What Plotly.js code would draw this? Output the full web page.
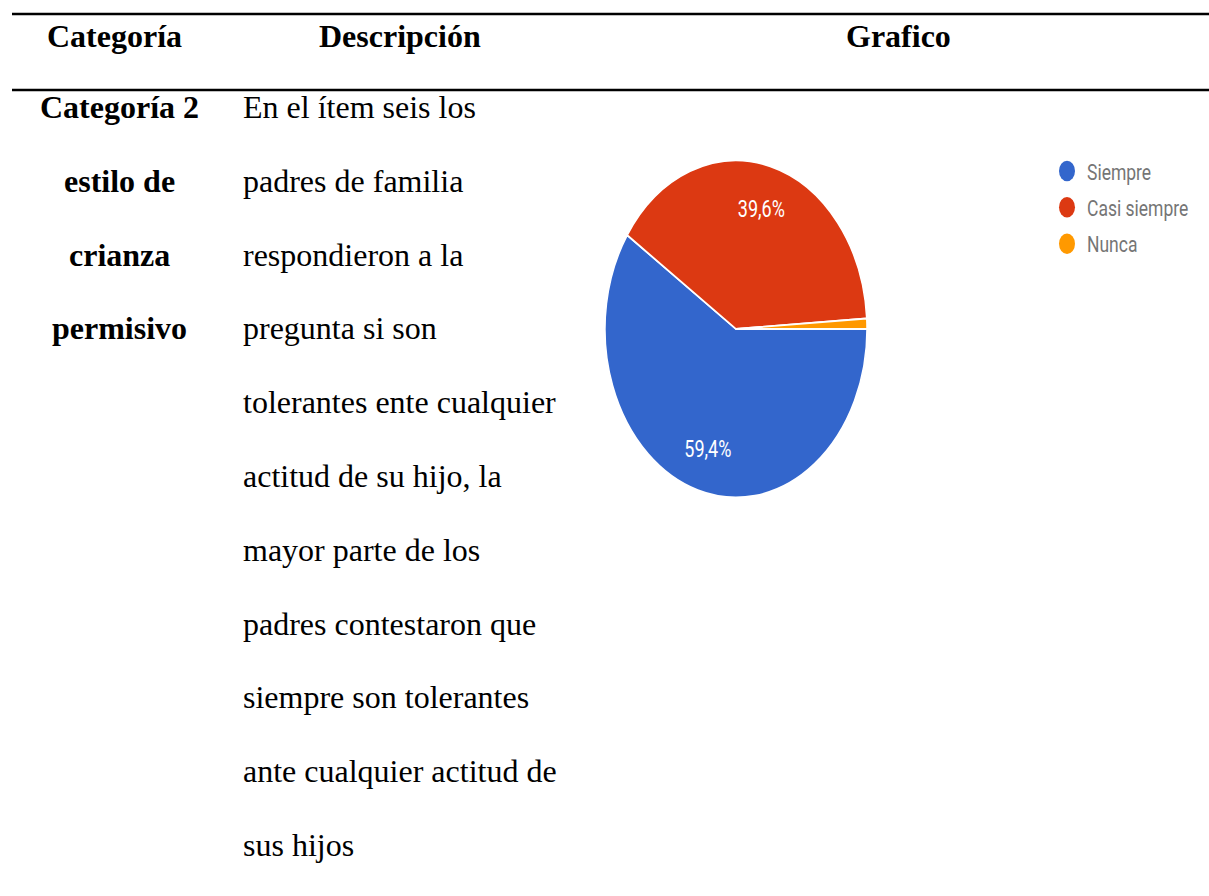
<!DOCTYPE html>
<html>
<head>
<meta charset="utf-8">
<script src="https://cdn.plot.ly/plotly-3.0.1.min.js"></script>
<style>
html,body{margin:0;padding:0;background:#fff;}
#chart{width:1209px;height:896px;}
</style>
</head>
<body>
<div id="chart"></div>
<script>
// ---- data ----
var headerLabels = ['Categoría', 'Descripción', 'Grafico'];
var categoryLines = ['Categoría 2', 'estilo de', 'crianza', 'permisivo'];
var descriptionLines = [
  'En el ítem seis los',
  'padres de familia',
  'respondieron a la',
  'pregunta si son',
  'tolerantes ente cualquier',
  'actitud de su hijo, la',
  'mayor parte de los',
  'padres contestaron que',
  'siempre son tolerantes',
  'ante cualquier actitud de',
  'sus hijos'
];
var answerLabels = ['Siempre', 'Casi siempre', 'Nunca'];
var answerPercents = [59.4, 39.6, 1.0];
var answerColors = ['#3366cc', '#dc3912', '#ff9900'];

// ---- layout helpers (pixels -> paper) ----
var W = 1209, H = 896;
function px(x){ return x / W; }
function py(y){ return 1 - y / H; }

var serif = 'Liberation Serif, Times New Roman, serif';
var annotations = [];
var headerX = [114, 400, 898];
headerLabels.forEach(function(t, i){
  annotations.push({text: '<b>' + t + '</b>', x: px(headerX[i]), y: py(36), xref: 'paper', yref: 'paper',
    xanchor: 'center', yanchor: 'middle', showarrow: false, font: {family: serif, size: 32, color: '#000'}});
});
var rowY0 = 107, rowStep = 73.8;
categoryLines.forEach(function(t, i){
  annotations.push({text: '<b>' + t + '</b>', x: px(119.5), y: py(rowY0 + i * rowStep), xref: 'paper', yref: 'paper',
    xanchor: 'center', yanchor: 'middle', showarrow: false, font: {family: serif, size: 32, color: '#000'}});
});
descriptionLines.forEach(function(t, i){
  annotations.push({text: t, x: px(241), y: py(rowY0 + i * rowStep), xref: 'paper', yref: 'paper',
    xanchor: 'left', yanchor: 'middle', showarrow: false, font: {family: serif, size: 32, color: '#000'}});
});

var shapes = [14, 90].map(function(y){
  return {type: 'line', xref: 'paper', yref: 'paper', x0: px(12), x1: 1, y0: py(y), y1: py(y),
    line: {color: '#000', width: 2.5}};
});

// pie drawn as a circle of radius 131 centred at (736, 329); stretched vertically afterwards
var pcx = 736, pcy = 329, pr = 131, stretch = 168.5 / 131, labelRadius = 0.74;

var traces = [{
  type: 'pie',
  labels: answerLabels,
  values: answerPercents,
  sort: false,
  direction: 'clockwise',
  rotation: 90,
  marker: {colors: answerColors, line: {color: '#ffffff', width: 1.5}},
  texttemplate: answerPercents.map(function(v){ return v >= 5 ? '%{percent:.1%}' : ''; }),
  textposition: 'inside',
  insidetextorientation: 'horizontal',
  textfont: {family: 'Roboto, Arial, sans-serif', size: 18, color: '#ffffff'},
  hoverinfo: 'label+percent',
  showlegend: false,
  domain: {x: [px(pcx - pr), px(pcx + pr)], y: [py(pcy + pr), py(pcy - pr)]}
}];
answerLabels.forEach(function(lab, i){
  traces.push({type: 'scatter', mode: 'markers', x: [null], y: [null], name: lab,
    legendgroup: 'g' + i, marker: {color: answerColors[i], size: 16, symbol: 'circle'},
    showlegend: true, hoverinfo: 'skip'});
});

var layout = {
  width: W, height: H,
  margin: {l: 0, r: 0, t: 0, b: 0},
  paper_bgcolor: '#ffffff', plot_bgcolor: '#ffffff',
  separators: ',.',
  xaxis: {visible: false, domain: [0, 1]},
  yaxis: {visible: false, domain: [0, 1]},
  showlegend: true,
  legend: {x: px(1047), y: py(148), xanchor: 'left', yanchor: 'top', bgcolor: 'rgba(0,0,0,0)',
    traceorder: 'grouped', tracegroupgap: 2.5, itemwidth: 30,
    font: {family: 'Roboto, Arial, sans-serif', size: 17.5, color: '#757575'}},
  annotations: annotations,
  shapes: shapes
};

var gd = document.getElementById('chart');
Plotly.newPlot(gd, traces, layout, {displayModeBar: false, staticPlot: true}).then(function(){
  var cd = gd.calcdata[0];
  var cx = cd[0].cx, cy = cd[0].cy;
  // move each percentage label out along its slice's mid-angle (as Google Charts does)
  gd.querySelectorAll('.pielayer .trace g.slice').forEach(function(sl){
    var pt = sl.__data__;
    var t = sl.querySelector('text.slicetext');
    if (!pt || !t || !pt.pxmid) return;
    var bb = t.getBBox();
    if (!bb.width) return;
    var tx = cx + pt.pxmid[0] * labelRadius, ty = cy + pt.pxmid[1] * labelRadius;
    t.setAttribute('transform', 'translate(' + tx + ',' + ty + ') translate(' +
      (-(bb.x + bb.width / 2)) + ',' + (-(bb.y + bb.height / 2)) + ')');
  });
  // the chart image in the source is stretched vertically: stretch pie and legend alike
  var tr = gd.querySelector('.pielayer .trace');
  if (tr) tr.setAttribute('transform', 'translate(0,' + (cy * (1 - stretch)) + ') scale(1,' + stretch + ')');
  var lg = gd.querySelector('g.legend');
  if (lg) lg.setAttribute('transform', (lg.getAttribute('transform') || '') + ' scale(1,' + stretch + ')');
});
</script>
</body>
</html>
